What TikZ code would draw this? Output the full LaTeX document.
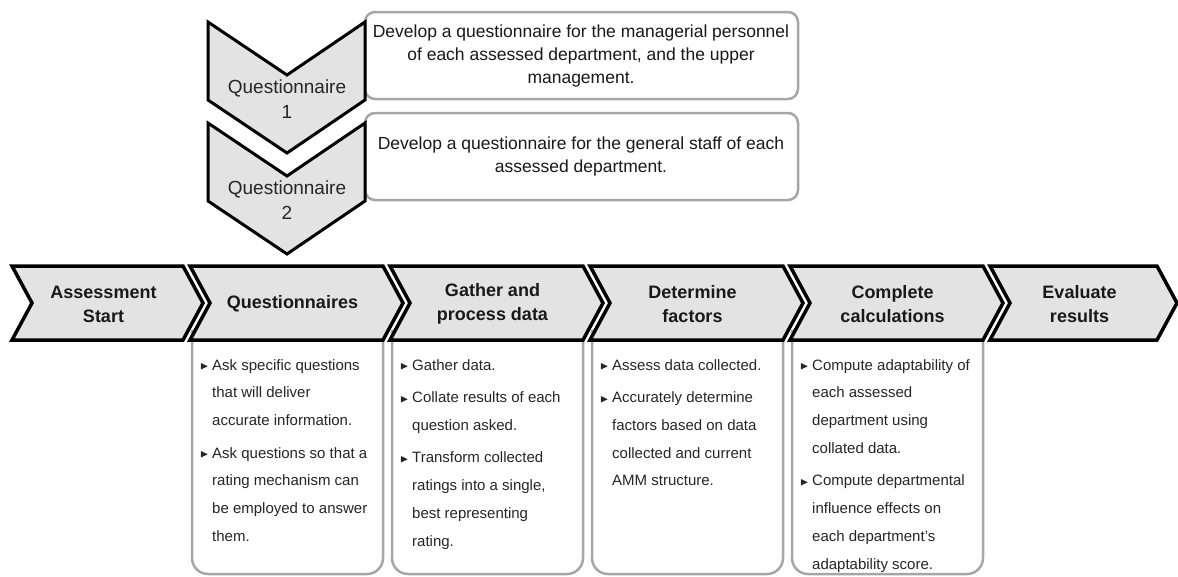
\documentclass[tikz,border=0pt]{standalone}
\usepackage{fontspec}
\setmainfont{Liberation Sans}
\usepackage{amssymb}
\newcommand\pnt{\makebox[12pt][l]{\raisebox{0.5pt}{\fontsize{11}{11}\selectfont$\blacktriangleright$}}}
\newcommand\cnt{\hspace*{12pt}}
\tikzset{
  chev/.style={draw=black,line width=3.5pt,fill=black!11,line join=miter},
  qchev/.style={draw=black,line width=3pt,fill=black!11,line join=miter},
  notebox/.style={draw=black!35,line width=2.5pt,fill=white},
  stagelbl/.style={font=\fontsize{18}{24}\selectfont\bfseries,align=center,text=black!90,inner sep=0pt},
  qlbl/.style={font=\fontsize{19}{25}\selectfont,align=center,text=black!85,inner sep=0pt},
  notetext/.style={font=\fontsize{17.5}{23}\selectfont,align=center,text=black!90,inner sep=0pt},
  bullets/.style={font=\fontsize{15}{27.8}\selectfont,align=left,text=black!85,inner sep=0pt,anchor=north west}
}
\begin{document}
\begin{tikzpicture}[x=1pt,y=-1pt]
\useasboundingbox (0,0) rectangle (1178,576);
% boxes under the stages
\foreach \l/\r in {192/383,392/583,592/783,792/983}
  \draw[notebox,rounded corners=16pt] (\l,330) -- (\l,574) -- (\r,574) -- (\r,330);
% stages
\foreach \l/\r/\nm/\lbl in {12/183/start/{Assessment\\Start},190/383/quest/Questionnaires,
    390/583/gather/{Gather and\\process data},590/783/factors/{Determine\\factors},
    790/983/calc/{Complete\\calculations},990/1157/evaluate/{Evaluate\\results}}{
  \draw[chev] (\l,266) -- (\r,266) -- (\r+20,303) -- (\r,340) -- (\l,340) -- (\l+20,303) -- cycle;
  \node[stagelbl] (\nm) at ({(\l+\r)/2+6},304) {\lbl};
}
% questionnaires on top
\foreach \y/\nm/\n in {22/qone/1,123/qtwo/2}{
  \draw[notebox,rounded corners=10pt] (365,\y-10) rectangle (798,\y+77);
  \draw[qchev] (208,\y) -- (287,\y+53) -- (365,\y) -- (365,\y+78) -- (287,\y+131) -- (208,\y+78) -- cycle;
  \node[qlbl] (\nm) at (287,\y+77) {Questionnaire\\\n};
}
\node[notetext] (devone) at (581,56) {Develop a questionnaire for the managerial personnel\\of each assessed department, and the upper\\management.};
\node[notetext] (devtwo) at (581,156) {Develop a questionnaire for the general staff of each\\assessed department.};
% bullet lists
\node[bullets] (questlist) at (200,359) {\pnt Ask specific questions\\\cnt that will deliver\\\cnt accurate information.\\[4.7pt]
  \pnt Ask questions so that a\\\cnt rating mechanism can\\\cnt be employed to answer\\\cnt them.};
\node[bullets] (gatherlist) at (400,359) {\pnt Gather data.\\[4.7pt]
  \pnt Collate results of each\\\cnt question asked.\\[4.7pt]
  \pnt Transform collected\\\cnt ratings into a single,\\\cnt best representing\\\cnt rating.};
\node[bullets] (factorslist) at (600,359) {\pnt Assess data collected.\\[4.7pt]
  \pnt Accurately determine\\\cnt factors based on data\\\cnt collected and current\\\cnt AMM structure.};
\node[bullets] (calclist) at (800,359) {\pnt Compute adaptability of\\\cnt each assessed\\\cnt department using\\\cnt collated data.\\[4.7pt]
  \pnt Compute departmental\\\cnt influence effects on\\\cnt each department's\\\cnt adaptability score.};
\end{tikzpicture}
\end{document}
